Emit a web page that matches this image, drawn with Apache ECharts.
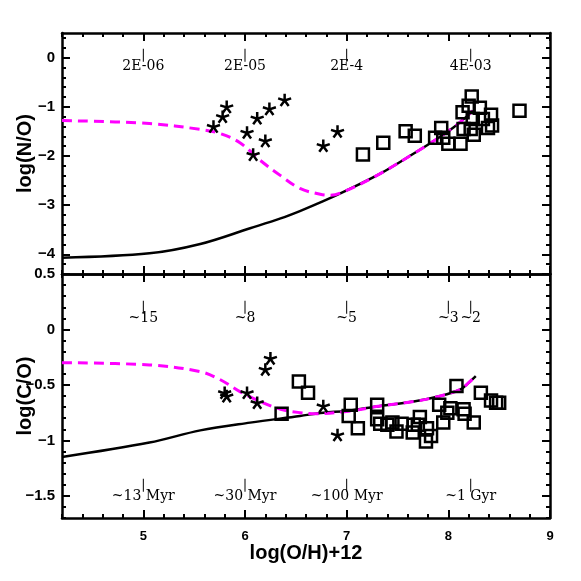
<!DOCTYPE html>
<html>
<head>
<meta charset="utf-8">
<script src="https://cdn.jsdelivr.net/npm/echarts@6/dist/echarts.min.js"></script>
<style>
  html, body { margin: 0; padding: 0; background: #fff; }
  #chart { width: 581px; height: 581px; }
</style>
</head>
<body>
<div id="chart"></div>
<script>
// x range / ticks
const xRange = [4.2, 9]
const xMajor = [5, 6, 7, 8, 9]
// top panel: log(N/O)
const noRange = [-4.4, 0.5]
const noMajor = [0, -1, -2, -3, -4]
// bottom panel: log(C/O)
const coRange = [-1.7, 0.5]
const coMajor = [0.5, 0, -0.5, -1, -1.5]

// models, top panel
const noSolid = [
  [4.2, -4.07], [5.06, -3.98], [5.56, -3.79], [6.05, -3.47], [6.35, -3.27], [6.54, -3.12],
  [6.77, -2.92], [7.0, -2.70], [7.33, -2.36], [7.66, -1.95], [7.86, -1.69], [8.05, -1.42],
  [8.19, -1.18], [8.24, -1.08]
]
const noDashed = [
  [4.2, -1.28], [5.06, -1.34], [5.56, -1.46], [5.75, -1.54], [5.95, -1.73], [6.15, -2.09],
  [6.35, -2.40], [6.54, -2.66], [6.74, -2.78], [6.84, -2.80], [7.0, -2.70], [7.33, -2.36],
  [7.66, -1.95], [7.86, -1.69], [8.05, -1.42], [8.19, -1.18], [8.24, -1.08]
]
// models, bottom panel
const coSolid = [
  [4.2, -1.15], [5.06, -1.02], [5.56, -0.91], [6.05, -0.84], [6.54, -0.78], [6.77, -0.75],
  [7.0, -0.735], [7.33, -0.69], [7.66, -0.65], [7.92, -0.60], [8.12, -0.54], [8.2, -0.48], [8.27, -0.42]
]
const coDashed = [
  [4.2, -0.30], [5.06, -0.32], [5.56, -0.38], [5.75, -0.45], [5.95, -0.56], [6.15, -0.65],
  [6.35, -0.72], [6.54, -0.75], [6.67, -0.76], [7.0, -0.74], [7.33, -0.69], [7.66, -0.65],
  [7.92, -0.60], [8.12, -0.54], [8.2, -0.48], [8.27, -0.42]
]

// observations
const noStars = [
  [5.69, -1.40], [5.78, -1.20], [5.82, -1.00], [6.02, -1.52], [6.08, -1.97], [6.20, -1.69],
  [6.12, -1.23], [6.24, -1.04], [6.39, -0.86], [6.77, -1.79], [6.91, -1.50]
]
const noSquares = [
  [7.16, -1.97], [7.36, -1.73], [7.58, -1.50], [7.67, -1.59], [7.87, -1.63], [7.93, -1.43],
  [7.95, -1.63], [8.00, -1.75], [8.12, -1.75], [8.14, -1.11], [8.15, -1.45], [8.20, -0.98],
  [8.23, -0.79], [8.24, -1.25], [8.22, -1.45], [8.25, -1.57], [8.31, -1.02], [8.34, -1.25],
  [8.39, -1.43], [8.42, -1.16], [8.43, -1.38], [8.70, -1.08]
]
const coStars = [
  [5.80, -0.57], [5.82, -0.60], [6.02, -0.57], [6.12, -0.66], [6.20, -0.36], [6.25, -0.26],
  [6.77, -0.69], [6.91, -0.95]
]
const coSquares = [
  [6.36, -0.76], [6.53, -0.47], [6.62, -0.57], [7.04, -0.68], [7.02, -0.78], [7.11, -0.89],
  [7.30, -0.68], [7.30, -0.81], [7.33, -0.85], [7.40, -0.86], [7.45, -0.84], [7.49, -0.92],
  [7.54, -0.85], [7.65, -0.93], [7.66, -0.86], [7.72, -0.79], [7.70, -0.86], [7.79, -0.89],
  [7.78, -1.01], [7.83, -0.96], [7.91, -0.68], [7.95, -0.84], [7.99, -0.75], [8.02, -0.71],
  [8.08, -0.51], [8.15, -0.72], [8.16, -0.76], [8.25, -0.84], [8.32, -0.57], [8.42, -0.64],
  [8.47, -0.66], [8.50, -0.66]
]

// annotation marks
const zTickX = [5, 6, 7, 8.22]
const zTickText = ['2E-06', '2E-05', '2E-4', '4E-03']
const massTickX = [5, 6, 7, 8, 8.22]
const massTickText = ['~15', '~8', '~5', '~3', '~2']
const timeTickX = [5, 6, 7, 8.22]
const timeTickText = ['~13 Myr', '~30 Myr', '~100 Myr', '~1 Gyr']

function steps(a, b, s) {
  const out = []
  for (let v = a; v <= b + 1e-9; v += s) {
    out.push(+v.toFixed(2))
  }
  return out
}

const chart = echarts.init(document.getElementById('chart'))
const sans = 'Liberation Sans'
const serif = 'DejaVu Serif'
const lineW = 2.5
const starPath = 'path://M0,0L0,-1M0,0L0.951,-0.309M0,0L0.588,0.809M0,0L-0.588,0.809M0,0L-0.951,-0.309'
const topRect = { left: 62, right: 31, top: 33, height: 241, outerBoundsMode: 'none' }
const botRect = { left: 62, right: 31, top: 274, height: 244, outerBoundsMode: 'none' }

// ticks / labels of one side of a grid
// major: long ticks + line (+labels), minor: short ticks only
function axis(grid, pos, range, ticks, major, opts) {
  const o = opts || {}
  return {
    type: 'value', gridIndex: grid, position: pos, min: range[0], max: range[1],
    axisLine: { show: major, onZero: false, lineStyle: { color: '#000', width: lineW } },
    axisTick: { show: true, inside: true, length: major ? 8 : 4, customValues: ticks, lineStyle: { color: '#000', width: 2 } },
    axisLabel: {
      show: !!o.labels, customValues: ticks, margin: o.margin || 8,
      fontFamily: sans, fontWeight: 'bold', fontSize: o.fontSize || 15, color: '#000',
      formatter: v => (v < 0 ? '\u2212' + String(-v) : String(v))
    },
    splitLine: { show: false },
    name: o.name || '', nameLocation: 'middle', nameGap: o.nameGap || 36,
    nameRotate: o.rotate ? 90 : 0, nameMoveOverlap: false,
    nameTextStyle: { fontFamily: sans, fontWeight: 'bold', fontSize: 20, color: '#000' }
  }
}

const xMinor = steps(4.2, 9, 0.2)
const noMinor = steps(-4.4, 0.4, 0.2)
const coMinor = steps(-1.7, 0.5, 0.1)

function curve(xi, yi, data, dashed) {
  return {
    type: 'line', xAxisIndex: xi, yAxisIndex: yi, data: data, showSymbol: false, symbol: 'none',
    smooth: 0.35, z: dashed ? 4 : 3, silent: true,
    lineStyle: dashed
      ? { color: '#ff00ff', width: 3, type: [10, 6] }
      : { color: '#000', width: 2.5 }
  }
}

function points(xi, yi, data, star) {
  return {
    type: 'scatter', xAxisIndex: xi, yAxisIndex: yi, data: data, z: 5, silent: true,
    symbol: star ? starPath : 'rect', symbolSize: star ? 13 : 12, symbolKeepAspect: true,
    itemStyle: { color: 'rgba(0,0,0,0)', borderColor: '#000', borderWidth: 2.5, opacity: 1 }
  }
}

// a short vertical bar with a text under it
function marks(xi, yi, xs, texts, y) {
  return {
    type: 'scatter', xAxisIndex: xi, yAxisIndex: yi, z: 6, silent: true,
    data: xs.map((x, i) => ({ value: [x, y], name: texts[i] })),
    symbol: 'rect', symbolSize: [1, 13],
    itemStyle: { color: '#000', opacity: 1 },
    label: {
      show: true, position: 'bottom', distance: -2, formatter: p => p.name,
      fontFamily: serif, fontSize: 14, color: '#000'
    }
  }
}

function note(xi, yi, pos, text) {
  return {
    type: 'scatter', xAxisIndex: xi, yAxisIndex: yi, z: 6, silent: true,
    data: [{ value: pos, name: text }], symbol: 'none', itemStyle: { opacity: 1 },
    label: { show: true, position: 'inside', formatter: p => p.name, fontFamily: serif, fontSize: 14, color: '#000' }
  }
}

function holder(i) {
  return { type: 'line', xAxisIndex: i, yAxisIndex: i, data: [], silent: true }
}

const option = {
  animation: false,
  backgroundColor: '#fff',
  // 0: top panel, 1: top panel short ticks, 2: bottom panel, 3: bottom panel short ticks
  grid: [topRect, topRect, botRect, botRect],
  xAxis: [
    axis(0, 'bottom', xRange, xMajor, true),
    axis(0, 'top', xRange, xMajor, true),
    axis(1, 'bottom', xRange, xMinor, false),
    axis(1, 'top', xRange, xMinor, false),
    axis(2, 'bottom', xRange, xMajor, true, { labels: true, fontSize: 13, margin: 12, name: 'log(O/H)+12', nameGap: 25 }),
    axis(2, 'top', xRange, xMajor, true),
    axis(3, 'bottom', xRange, xMinor, false),
    axis(3, 'top', xRange, xMinor, false)
  ],
  yAxis: [
    axis(0, 'left', noRange, noMajor, true, { labels: true, margin: 7, name: 'log(N/O)', nameGap: 27, rotate: true }),
    axis(0, 'right', noRange, noMajor, true),
    axis(1, 'left', noRange, noMinor, false),
    axis(1, 'right', noRange, noMinor, false),
    axis(2, 'left', coRange, coMajor, true, { labels: true, margin: 7, name: 'log(C/O)', nameGap: 27, rotate: true }),
    axis(2, 'right', coRange, coMajor, true),
    axis(3, 'left', coRange, coMinor, false),
    axis(3, 'right', coRange, coMinor, false)
  ],
  series: [
    holder(1), holder(2), holder(3), holder(5), holder(6), holder(7),

    curve(0, 0, noSolid, false),
    curve(0, 0, noDashed, true),
    points(0, 0, noStars, true),
    points(0, 0, noSquares, false),
    marks(0, 0, zTickX, zTickText, 0.05),
    note(0, 0, [8.71, -0.19], 'Z'),

    curve(4, 4, coSolid, false),
    curve(4, 4, coDashed, true),
    points(4, 4, coStars, true),
    points(4, 4, coSquares, false),
    marks(4, 4, massTickX, massTickText, 0.2),
    note(4, 4, [8.72, 0.19], '> M'),
    marks(4, 4, timeTickX, timeTickText, -1.405),
    note(4, 4, [8.66, -1.41], 'time')
  ]
}
chart.setOption(option)
</script>
</body>
</html>
